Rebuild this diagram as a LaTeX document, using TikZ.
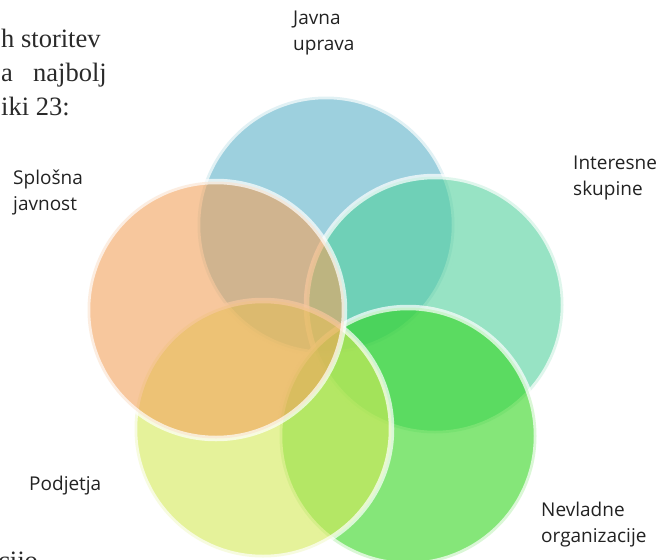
\documentclass[tikz,border=0pt]{standalone}
\usepackage{fontspec}
\setmainfont{Liberation Serif}
\newfontfamily\labfont{Open Sans}
\definecolor{cblue}{HTML}{5CB1C8}
\definecolor{cteal}{HTML}{52D09D}
\definecolor{cgreen}{HTML}{34D620}
\definecolor{cyellow}{HTML}{D4E957}
\definecolor{corange}{HTML}{F2A25C}
\definecolor{labtext}{HTML}{222222}
\definecolor{bodytext}{HTML}{2A2A2A}
\begin{document}
\begin{tikzpicture}[x=1pt,y=-1pt,
  venn/.style={circle, minimum size=257pt, inner sep=0pt, fill opacity=0.6, draw=white, draw opacity=0.7, line width=5.5pt},
  lab/.style={font=\labfont\fontsize{19}{25.5}\selectfont, text=labtext, align=left, anchor=north west, inner sep=0pt},
  body/.style={font=\fontsize{26.5}{30}\selectfont, text=bodytext, anchor=base west, inner sep=0pt}]
\useasboundingbox (0,0) rectangle (662,560);
\clip (0,0) rectangle (662,560);
% background document text
\node[body] (b1) at (1,47) {h storitev};
\node[body] (b2a) at (1,81) {a};
\node[body] (b2b) at (33,81) {najbolj};
\node[body] (b3) at (1,115) {iki 23:};
\node[body] (b4) at (-2,569) {cijo};
% circles
\node[venn, fill=cblue] (javna) at (326,225) {};
\node[venn, fill=cteal] (interes) at (435,305) {};
\node[venn, fill=cgreen] (nevlad) at (408,436) {};
\node[venn, fill=cyellow] (podj) at (263,429) {};
\node[venn, fill=corange] (splos) at (216,310) {};
% labels
\node[lab] (lj) at (293,11) {Javna\\uprava};
\node[lab] (li) at (573,156) {Interesne\\skupine};
\node[lab] (ls) at (13,170) {Splošna\\javnost};
\node[lab] (lp) at (29,476) {Podjetja};
\node[lab] (ln) at (541,502) {Nevladne\\organizacije};
\end{tikzpicture}
\end{document}
